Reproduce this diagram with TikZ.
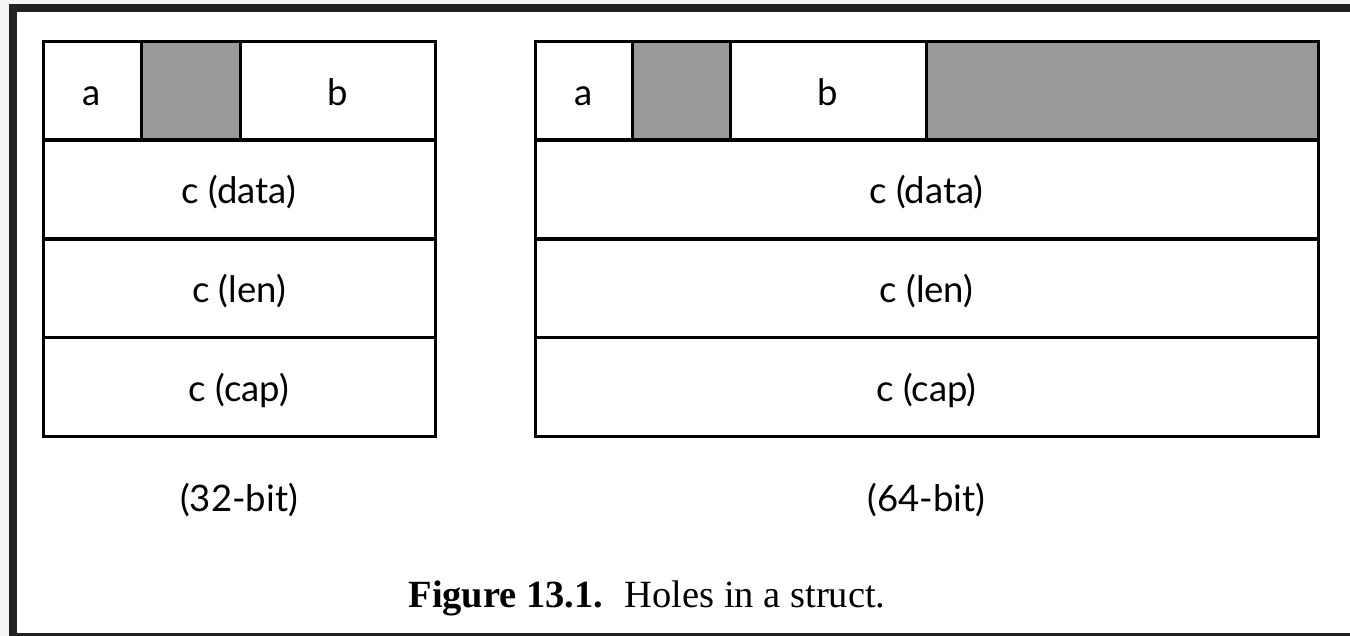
\documentclass[tikz,border=0pt]{standalone}
\usepackage{fontspec}
\setmainfont{Liberation Serif}
\newfontfamily\latofont{Lato}
\definecolor{holegray}{RGB}{154,154,154}
\definecolor{framedark}{RGB}{34,34,34}
\definecolor{outerbg}{RGB}{245,245,245}
\begin{document}
\begin{tikzpicture}[x=1pt,y=-1pt,
  cell/.style={draw=black, line width=3pt, fill=white, inner sep=0pt,
    minimum height=98pt},
  hole/.style={cell, fill=holegray},
  lbl/.style={inner sep=0pt, anchor=base, font=\latofont\fontsize{36.5}{40}\selectfont},
  captext/.style={inner sep=0pt, anchor=base, font=\fontsize{38.5}{44}\selectfont}]
\useasboundingbox (0,0) rectangle (1350,636);
\fill[outerbg] (0,0) rectangle (1350,636);
\fill[framedark] (9,4) rectangle (1350,636);
\fill[white] (17,12) rectangle (1350,633);
% 32-bit
\node[cell, minimum width=98pt] (la) at (92,91) {};
\node[hole, minimum width=99pt] (lh) at (190.5,91) {};
\node[cell, minimum width=195pt] (lb) at (337.5,91) {};
\node[cell, minimum width=392pt] (ld) at (239,189.5) {};
\node[cell, minimum width=392pt] (ll) at (239,288.5) {};
\node[cell, minimum width=392pt] (lc) at (239,387) {};
\node[lbl] (tla) at ([yshift=-14.5pt]la.center) {a};
\node[lbl] (tlb) at ([yshift=-14.5pt]lb.center) {b};
\node[lbl] (tld) at ([yshift=-14pt]ld.center) {c (data)};
\node[lbl] (tll) at ([yshift=-14pt]ll.center) {c (len)};
\node[lbl] (tlc) at ([yshift=-14pt]lc.center) {c (cap)};
\node[lbl] (l32) at (239,511) {(32-bit)};
% 64-bit
\node[cell, minimum width=97pt] (ra) at (583.5,91) {};
\node[hole, minimum width=98pt] (rh) at (681,91) {};
\node[cell, minimum width=196pt] (rb) at (828,91) {};
\node[hole, minimum width=392pt] (rh2) at (1122,91) {};
\node[cell, minimum width=783pt] (rd) at (926.5,189.5) {};
\node[cell, minimum width=783pt] (rl) at (926.5,288.5) {};
\node[cell, minimum width=783pt] (rc) at (926.5,387) {};
\node[lbl] (tra) at ([yshift=-14.5pt]ra.center) {a};
\node[lbl] (trb) at ([yshift=-14.5pt]rb.center) {b};
\node[lbl] (trd) at ([yshift=-14pt]rd.center) {c (data)};
\node[lbl] (trl) at ([yshift=-14pt]rl.center) {c (len)};
\node[lbl] (trc) at ([yshift=-14pt]rc.center) {c (cap)};
\node[lbl] (l64) at (926.5,511) {(64-bit)};
% caption
\node[captext] (caption) at (647,607) {\textbf{Figure 13.1.}\hspace{0.55em}Holes in a struct.};
\end{tikzpicture}
\end{document}
